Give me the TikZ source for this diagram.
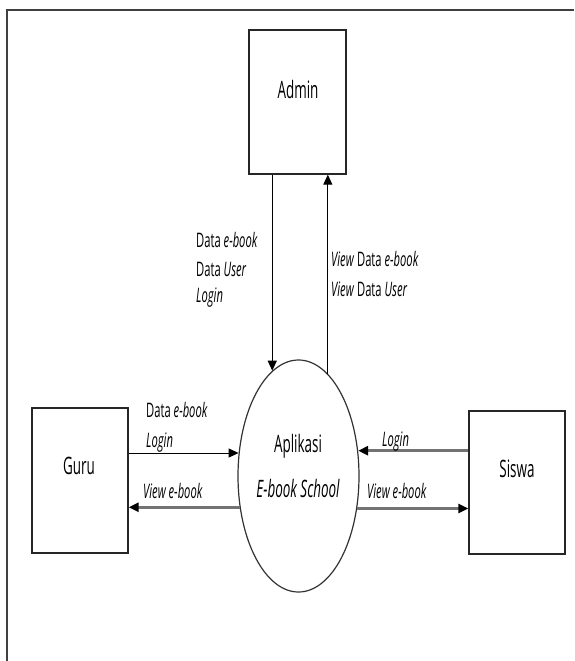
\documentclass[tikz,border=0pt]{standalone}
\usepackage{fontspec}
\setmainfont[FakeStretch=0.56]{Open Sans}
\usetikzlibrary{arrows.meta,shapes.geometric}
\begin{document}
\begin{tikzpicture}[x=1pt,y=-1pt,
  entity/.style={draw=black!85,line width=1.3pt,rectangle,inner sep=0pt},
  bigtxt/.style={font=\fontsize{24}{28}\selectfont,inner sep=0pt},
  flowtxt/.style={font=\fontsize{20}{24}\selectfont,inner sep=0pt,anchor=base west},
  thinflow/.style={draw=black,line width=1pt,-{Triangle[length=10pt,width=9pt]}},
  thickflow/.style={draw=black!55,line width=2.6pt,-{Triangle[length=10pt,width=9pt,color=black]}},
  frame/.style={draw=black!75,line width=1.6pt}]
\useasboundingbox (0,0) rectangle (574,661);
% frame (cropped)
\coordinate (fTL) at (7,10);
\coordinate (fTR) at (574,10);
\coordinate (fBL) at (7,661);
\draw[frame] (fBL) -- (fTL) -- (fTR);
% entities
\node[entity,minimum width=97pt,minimum height=144pt] (admin) at (297.5,102) {};
\node[bigtxt] (admintxt) at (298,89) {Admin};
\node[entity,minimum width=96pt,minimum height=145pt] (guru) at (80,480.5) {};
\node[bigtxt] (gurutxt) at (79,466) {Guru};
\node[entity,minimum width=96pt,minimum height=143pt] (siswa) at (517,482.5) {};
\node[bigtxt] (siswatxt) at (517,469) {Siswa};
% process
\node[draw=black!80,line width=1.2pt,ellipse,minimum width=121pt,minimum height=232pt,inner sep=0pt] (app) at (298.5,476) {};
\node[bigtxt] (apptxt1) at (298,446) {Aplikasi};
\node[bigtxt] (apptxt2) at (298,488) {\itshape E-book School};
% flows admin
\draw[thinflow] (app.104.6 |- admin.south) -- (app.104.6);
\draw[thinflow] (app.74.05) -- (app.74.05 |- admin.south);
% flows guru
\draw[thinflow] (guru.east |- app.159.5) -- (app.159.5);
\draw[thickflow] (app.208.2) -- (guru.east |- app.208.2);
% flows siswa
\draw[thickflow] (siswa.west |- app.23.1) -- (app.23.1);
\draw[thickflow] (app.331.8) -- (siswa.west |- app.331.8);
% labels
\node[flowtxt] (l1) at (196,247) {Data \textit{e-book}};
\node[flowtxt] (l2) at (196,276) {Data \textit{User}};
\node[flowtxt] (l3) at (196,302) {\textit{Login}};
\node[flowtxt] (r1) at (331,266) {\textit{View} Data \textit{e-book}};
\node[flowtxt] (r2) at (331,296) {\textit{View} Data \textit{User}};
\node[flowtxt] (g1) at (146,417) {Data \textit{e-book}};
\node[flowtxt] (g2) at (146,447) {\textit{Login}};
\node[flowtxt] (g3) at (143,498) {\textit{View e-book}};
\node[flowtxt] (s1) at (382,446) {\textit{Login}};
\node[flowtxt] (s2) at (367,498) {\textit{View e-book}};
\end{tikzpicture}
\end{document}
